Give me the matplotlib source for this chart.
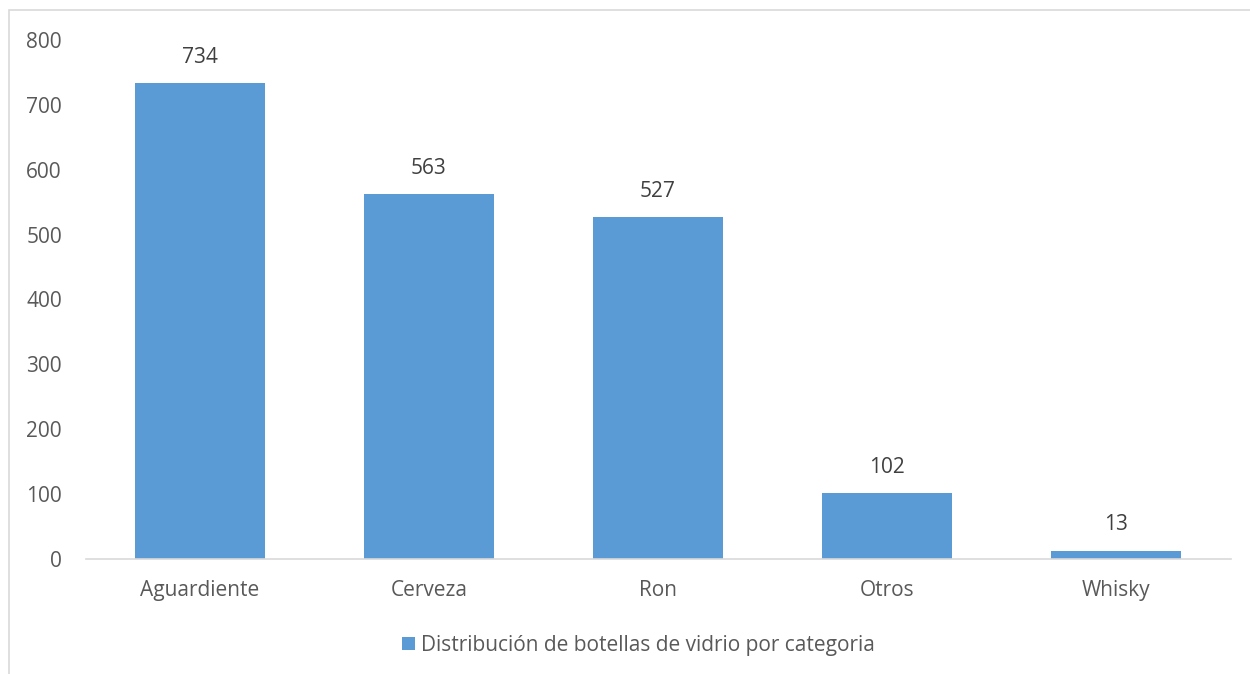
import matplotlib.pyplot as plt
from matplotlib.patches import Rectangle

categorias = ['Aguardiente', 'Cerveza', 'Ron', 'Otros', 'Whisky']
botellas = [734, 563, 527, 102, 13]
serie = 'Distribución de botellas de vidrio por categoria'

plt.rcParams['font.family'] = ['Open Sans', 'DejaVu Sans']
gris = '#595959'
fs = 15

fig = plt.figure(figsize=(12.5, 6.74), dpi=100)
ax = fig.add_axes([0.0684, 0.1706, 0.916, 0.7701])

x = range(len(categorias))
bars = ax.bar(x, botellas, width=0.57, color='#5b9bd5', label=serie)
for b, v in zip(bars, botellas):
	ax.annotate(str(v), (b.get_x() + b.get_width() / 2, v), xytext=(0, 18.5),
		textcoords='offset points', ha='center', va='center',
		fontsize=fs, color='#404040')

ax.set_xlim(-0.5, len(categorias) - 0.5)
ax.set_ylim(0, 800)
ax.set_yticks(range(0, 801, 100))
ax.set_xticks(list(x))
ax.set_xticklabels(categorias)
ax.tick_params(axis='both', length=0, labelsize=fs, colors=gris)
ax.tick_params(axis='x', pad=15)
ax.tick_params(axis='y', pad=17)
for s in ['top', 'right', 'left']:
	ax.spines[s].set_visible(False)
ax.spines['bottom'].set_color('#d9d9d9')
ax.spines['bottom'].set_linewidth(1.2)

leg = fig.legend(loc='center', bbox_to_anchor=(0.511, 0.043), frameon=False,
	fontsize=fs, handlelength=0.6, handleheight=0.6, handletextpad=0.3)
for t in leg.get_texts():
	t.set_color(gris)

# marco del grafico
fig.patches.append(Rectangle((9 / 1250, -0.01), 1.0, 1 - 10 / 674 + 0.01,
	transform=fig.transFigure, fill=False, edgecolor='#d9d9d9', linewidth=1.2))

fig.savefig('out.png', dpi=100)
